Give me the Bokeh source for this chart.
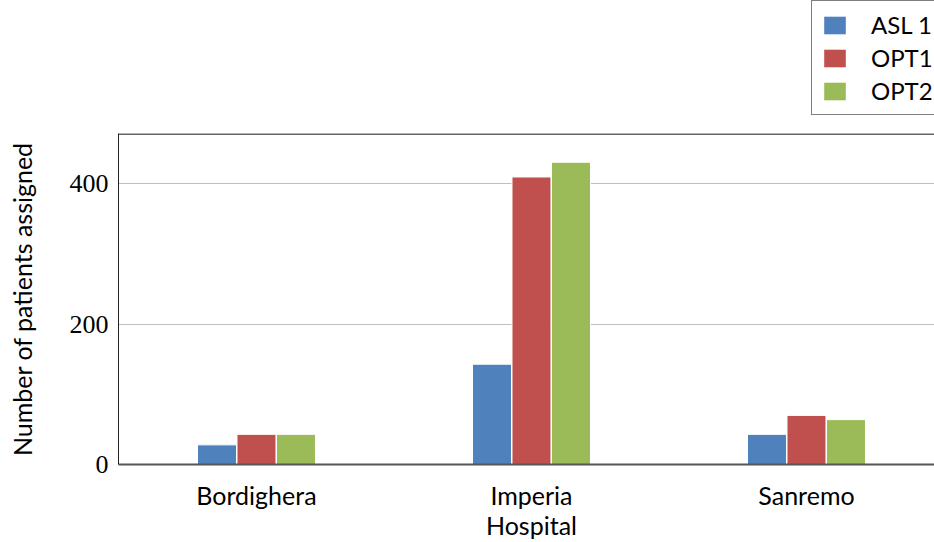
from bokeh.plotting import figure
from bokeh.layouts import column
from bokeh.models import Range1d, FixedTicker, Legend, LegendItem, ColumnDataSource, Span
from bokeh.embed import file_html
from bokeh.resources import INLINE

categories = ["Bordighera", "Imperia\nHospital", "Sanremo"]
series_names = ["ASL 1", "OPT1", "OPT2"]
asl1 = [28, 143, 43]
opt1 = [43, 410, 70]
opt2 = [43, 431, 64]
colors = ["#4F81BD", "#C0504D", "#9BBB59"]
y_ticks = [0, 200, 400]
grid_ticks = [200, 400]
y_max = 472

offsets = [-0.1436, 0.0, 0.1436]
sources = [ColumnDataSource(dict(x=[i + off for i in range(len(categories))], top=vals))
           for vals, off in zip([asl1, opt1, opt2], offsets)]

# ---- legend strip (above the plot area); its ranges keep the bars far out of view ----
lg = figure(width=934, height=133, output_backend="svg", toolbar_location=None,
            x_range=Range1d(100, 101), y_range=Range1d(5000, 5001),
            x_axis_type=None, y_axis_type=None, min_border=0)
lg.outline_line_color = None
lg.xgrid.visible = False
lg.ygrid.visible = False
leg_renderers = []
for src, col in zip(sources, colors):
    r = lg.vbar(x="x", top="top", bottom=0, width=0.1418, source=src,
                fill_color=col, line_color=None)
    leg_renderers.append(r)
legend = Legend(items=[LegendItem(label=n, renderers=[r]) for n, r in zip(series_names, leg_renderers)],
                location=(693, 18), orientation="vertical",
                label_text_font="Lato", label_text_font_size="24px", label_text_color="black",
                glyph_width=27, glyph_height=22, label_standoff=23,
                padding=9, spacing=4, label_height=27, margin=0,
                border_line_color="black", border_line_width=1,
                background_fill_color="white", background_fill_alpha=1)
lg.add_layout(legend)

# ---- main plot ----
p = figure(width=934, height=409, output_backend="svg", toolbar_location=None,
           x_range=Range1d(-0.5018, 2.4655), y_range=Range1d(0, y_max),
           min_border_left=118, min_border_right=0, min_border_top=0,
           min_border_bottom=76)
p.outline_line_color = None
p.background_fill_color = "white"
p.border_fill_color = "white"

for src, col in zip(sources, colors):
    p.vbar(x="x", top="top", bottom=0, width=0.1418, source=src,
           fill_color=col, line_color="white", line_width=1)

p.xaxis.ticker = FixedTicker(ticks=list(range(len(categories))))
p.xaxis.major_label_overrides = {i: c for i, c in enumerate(categories)}
p.xaxis.major_label_text_font = "Lato"
p.xaxis.major_label_text_font_size = "25px"
p.xaxis.major_label_text_line_height = 1.0
p.xaxis.major_label_text_color = "black"
p.xaxis.major_label_standoff = 15
p.xaxis.major_tick_out = 0
p.xaxis.major_tick_in = 0
p.xaxis.minor_tick_out = 0
p.xaxis.minor_tick_in = 0
p.xaxis.axis_line_color = "#555555"
p.xaxis.axis_line_width = 2

p.yaxis.ticker = FixedTicker(ticks=y_ticks)
p.yaxis.major_label_text_font = "Liberation Serif"
p.yaxis.major_label_text_font_size = "26px"
p.yaxis.major_label_text_color = "black"
p.yaxis.major_label_standoff = 10
p.yaxis.major_tick_out = 0
p.yaxis.major_tick_in = 0
p.yaxis.minor_tick_out = 0
p.yaxis.minor_tick_in = 0
p.yaxis.axis_line_color = "#222222"
p.yaxis.axis_line_width = 1
p.yaxis.axis_label = "Number of patients assigned"
p.yaxis.axis_label_text_font = "Lato"
p.yaxis.axis_label_text_font_style = "normal"
p.yaxis.axis_label_text_font_size = "25px"
p.yaxis.axis_label_text_color = "black"
p.yaxis.axis_label_standoff = 30

p.add_layout(Span(location=y_max - 0.7, dimension="width", line_color="#333333", line_width=1.5))

p.xgrid.visible = False
p.ygrid.ticker = FixedTicker(ticks=grid_ticks)
p.ygrid.grid_line_color = "#c0c0c0"
p.ygrid.grid_line_width = 1

layout = column(lg, p, spacing=0)
open("out.html", "w").write(file_html(layout, INLINE))
